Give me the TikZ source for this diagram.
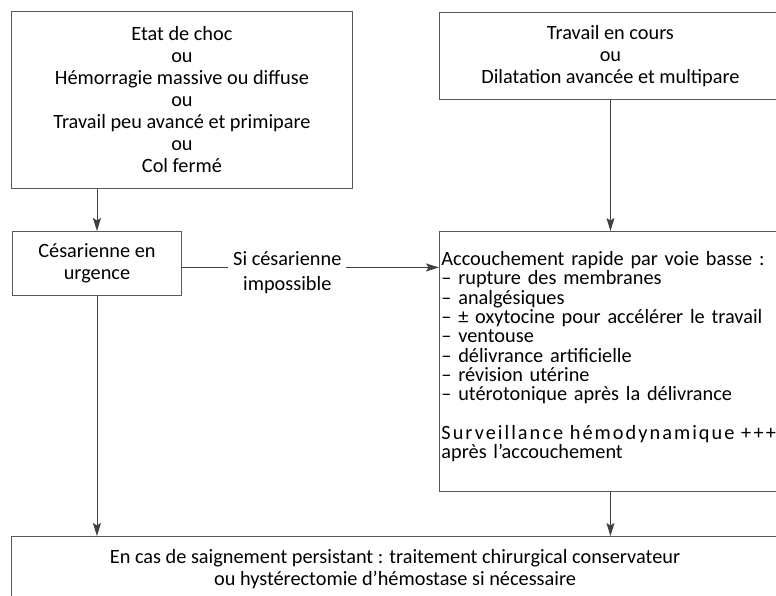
\documentclass[tikz,border=0pt]{standalone}
\usepackage{fontspec}
\setmainfont{Carlito}
\usetikzlibrary{shapes, arrows, arrows.meta, positioning}

\begin{document}
\begin{tikzpicture}[x=1pt,y=-1pt]
        \tikzstyle{every node}=[align=center, font=\fontsize{20.3}{22}\selectfont]
        \tikzstyle{box}=[draw=black!65, line width=0.9pt, inner sep=0pt, anchor=north west]
        \tikzstyle{link}=[draw=black!75, line width=0.9pt, -{Stealth[length=13pt,width=8pt,inset=2.5pt]}]
        \useasboundingbox (0,0) rectangle (776,595);
        \clip (0,0) rectangle (776,595);

        \node[box, minimum width=341, minimum height=177] at (11,11) (choc) {Etat de choc\\ou\\H\'emorragie massive ou diffuse\\ou\\Travail peu avanc\'e et primipare\\ou\\Col ferm\'e};
        \node[box, minimum width=342, minimum height=87] at (439,12) (travail) {Travail en cours\\ou\\Dilatation avanc\'ee et multipare};

        \node[box, minimum width=169, minimum height=64] at (12,231) (cesar) {C\'esarienne en\\urgence};
        \node[box, minimum width=342, minimum height=260, text width=338, inner xsep=2pt, align=left,
              font=\fontsize{20.3}{19.3}\selectfont] at (439,231) (accouch) {Accouchement rapide par voie basse :\\
                – rupture des membranes\\
                – analg\'esiques\\
                – ± oxytocine pour acc\'el\'erer le travail\\
                – ventouse\\
                – d\'elivrance artificielle\\
                – r\'evision ut\'erine\\
                – ut\'erotonique apr\`es la d\'elivrance\\[19.3pt]
                {\addfontfeature{LetterSpace=10}Surveillance h\'emodynamique +++}\\
                apr\`es l’accouchement\\[-6.3pt]\mbox{}};

        \node[anchor=north, minimum width=766, minimum height=66, inner sep=0pt] at (395,536) (sortie) {En cas de saignement persistant : traitement chirurgical conservateur\\ou hyst\'erectomie d’h\'emostase si n\'ecessaire};
        \draw[draw=black!65, line width=0.9pt] ([yshift=-20]sortie.south west) -- (sortie.north west) -- (sortie.north east) -- ([yshift=-20]sortie.south east);

        \draw[link] (cesar.north |- choc.south) -- (cesar);
        \draw[link] (travail) -- (accouch);
        \draw[link] ([yshift=-4]cesar.east) -- node[pos=0.41, fill=white, inner xsep=5pt, yshift=-5,
              font=\fontsize{20.3}{25}\selectfont] (impossible) {Si c\'esarienne\\impossible} ([yshift=-4]cesar.east -| accouch.west);
        \draw[link] (cesar) -- (cesar.south |- sortie.north);
        \draw[link] (accouch) -- (accouch.south |- sortie.north);
\end{tikzpicture}
\end{document}
